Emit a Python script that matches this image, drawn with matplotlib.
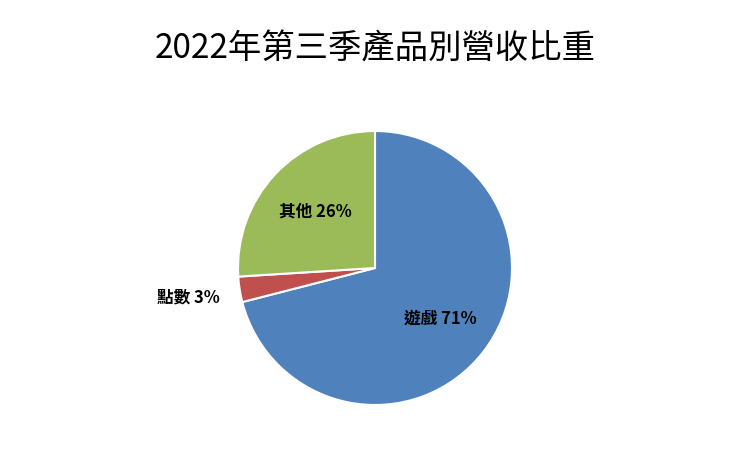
import matplotlib
matplotlib.use("Agg")
import matplotlib.pyplot as plt
import numpy as np

plt.rcParams['font.family'] = ['Noto Sans CJK TC', 'DejaVu Sans']

categories = ['遊戲', '點數', '其他']
values = [71, 3, 26]
colors = ['#4F81BD', '#C0504D', '#9BBB59']
label_dist = [0.6, 1.38, 0.6]

fig = plt.figure(figsize=(7.5, 4.5), dpi=100)
fig.text(0.5, 0.89, '2022年第三季產品別營收比重', ha='center', va='center', fontsize=24)
ax = fig.add_axes([238/750, 45/450, 274/750, 274/450])
wedges, _ = ax.pie(values, colors=colors, startangle=90, counterclock=False,
                   wedgeprops=dict(edgecolor='white', linewidth=1.5))
ax.set_xlim(-1, 1); ax.set_ylim(-1, 1)
for w, c, v, d in zip(wedges, categories, values, label_dist):
    ang = np.deg2rad((w.theta1 + w.theta2) / 2)
    ax.text(d * np.cos(ang), d * np.sin(ang), f'{c} {v}%', ha='center', va='center',
            fontsize=12, fontweight='bold')
fig.savefig('out.png', dpi=100)
